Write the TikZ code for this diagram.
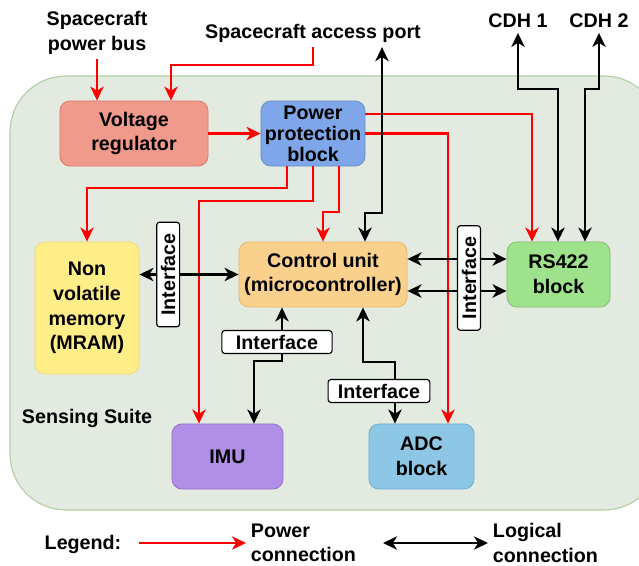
\documentclass[tikz,border=0pt]{standalone}
\usepackage{fontspec}
\setmainfont{Liberation Sans}
\usepackage{xcolor}
\usetikzlibrary{positioning, arrows.meta}

\definecolor{suitefill}{HTML}{E3EBE0}
\definecolor{suiteline}{HTML}{B3CFA2}
\definecolor{vrfill}{HTML}{F09A8C}
\definecolor{vrline}{HTML}{DD7A6D}
\definecolor{ppfill}{HTML}{7EA6E8}
\definecolor{ppline}{HTML}{6A8FCC}
\definecolor{memfill}{HTML}{FFEE88}
\definecolor{memline}{HTML}{EBD97A}
\definecolor{cufill}{HTML}{F9D18D}
\definecolor{culine}{HTML}{E6B874}
\definecolor{rsfill}{HTML}{9EE28C}
\definecolor{rsline}{HTML}{84BF72}
\definecolor{imufill}{HTML}{B28FE6}
\definecolor{imuline}{HTML}{9673C8}
\definecolor{adcfill}{HTML}{8EC6E6}
\definecolor{adcline}{HTML}{6EAED4}

\begin{document}
\begin{tikzpicture}[
  x=0.025cm, y=-0.025cm,
  every node/.style={font=\fontsize{14}{17.5}\selectfont\bfseries},
  blk/.style={draw, rounded corners=7pt, line width=0.6pt, align=center,
              minimum height=1.625cm, inner sep=0pt},
  ifc/.style={draw, fill=white, rounded corners=2pt, line width=0.8pt,
              inner xsep=8pt, inner ysep=3pt},
  parr/.style={-{Stealth[length=10pt, width=9.5pt, inset=3pt]}, red, line width=1.5pt},
  larr/.style={{Stealth[length=10pt, width=9.5pt, inset=3pt]}-{Stealth[length=10pt, width=9.5pt, inset=3pt]},
               black, line width=1.5pt}
]
\useasboundingbox (0,0) rectangle (639,566);

% sensing suite
\begin{scope}
  \clip (0,0) rectangle (639,566);
  \draw[fill=suitefill, draw=suiteline, line width=0.8pt, rounded corners=1.4cm]
    (10,76) rectangle (660,510);
\end{scope}
\node[anchor=west] (suite) at (17,418) {Sensing Suite};

% blocks
\node[blk, fill=vrfill, draw=vrline, minimum width=3.7cm] (vr) at (134,133.5)
  {Voltage\\regulator};
\node[blk, fill=ppfill, draw=ppline, minimum width=2.6cm,
      font=\fontsize{14}{15}\selectfont\bfseries] (pp) at (313,133.5)
  {Power\\protection\\block};
\node[blk, fill=memfill, draw=memline, minimum width=2.6cm, minimum height=3.3cm]
  (nvm) at (87,308) {Non\\volatile\\memory\\(MRAM)};
\node[blk, fill=cufill, draw=culine, minimum width=4.2cm] (cu) at (323,274.5)
  {Control unit\\(microcontroller)};
\node[blk, fill=rsfill, draw=rsline, minimum width=2.575cm] (rs) at (558.5,274.5)
  {RS422\\block};
\node[blk, fill=imufill, draw=imuline, minimum width=2.775cm] (imu) at (227.5,456.5)
  {IMU};
\node[blk, fill=adcfill, draw=adcline, minimum width=2.625cm] (adc) at (421.5,456.5)
  {ADC\\block};

% outside labels
\node[align=center] (bus) at (97,33) {Spacecraft\\power bus};
\node (port) at (313,33) {Spacecraft access port};
\node (cdh1) at (518,21) {CDH 1};
\node (cdh2) at (599,21) {CDH 2};

% power
\draw[parr] (bus) -- (bus |- vr.north);
\draw[parr] (port.south) |- (171,65) -- (vr.north -| 171,0);
\draw[parr] (vr) -- (pp);
\draw[parr] (pp.east |- 0,114) -| (rs.north -| 532,0);
\draw[parr] (pp.east) -| (adc.north -| 448,0);
\draw[parr] (pp.south -| 287,0) -- (287,188) -| (nvm.north);
\draw[parr] (pp.south) -- (313,201) -| (imu.north -| 199,0);
\draw[parr] (pp.south -| 339,0) -- (339,212) -| (cu.north);

% logical
\draw[larr] (cu.north -| 365,0) |- (382,213) -- (port.south -| 382,0);
\draw[larr] (rs.north -| 558,0) |- (518,89) -- (cdh1.south);
\draw[larr] (rs.north -| 585,0) |- (599,89) -- (cdh2.south);
\draw[larr] (nvm.east |- cu.west) -- (cu.west)
  node[ifc, rotate=90, pos=0.29] (if1) {Interface};
\draw[larr] (cu.east |- 0,259) -- (rs.west |- 0,259);
\draw[larr] (cu.east |- 0,291) -- (rs.west |- 0,291);
\node[ifc, rotate=90] (if2) at (469,278) {Interface};
\draw[larr] (cu.south -| 282,0) |- (254,361) -- (imu.north -| 254,0);
\node[ifc, inner xsep=10pt] (if3) at (277,342) {Interface};
\draw[larr] (cu.south -| 363,0) |- (395,362) -- (adc.north -| 395,0);
\node[ifc, inner xsep=7pt] (if4) at (379,391) {Interface};

% legend
\node (leg) at (83,544) {Legend:};
\node[anchor=west, align=left] (pwr) at (246,543) {Power\\connection};
\node[anchor=west, align=left] (lgc) at (488,543) {Logical\\connection};
\draw[parr] (pwr.west -| 139,0) -- (pwr.west);
\draw[larr] (lgc.west -| 383,0) -- (lgc.west);
\end{tikzpicture}
\end{document}
